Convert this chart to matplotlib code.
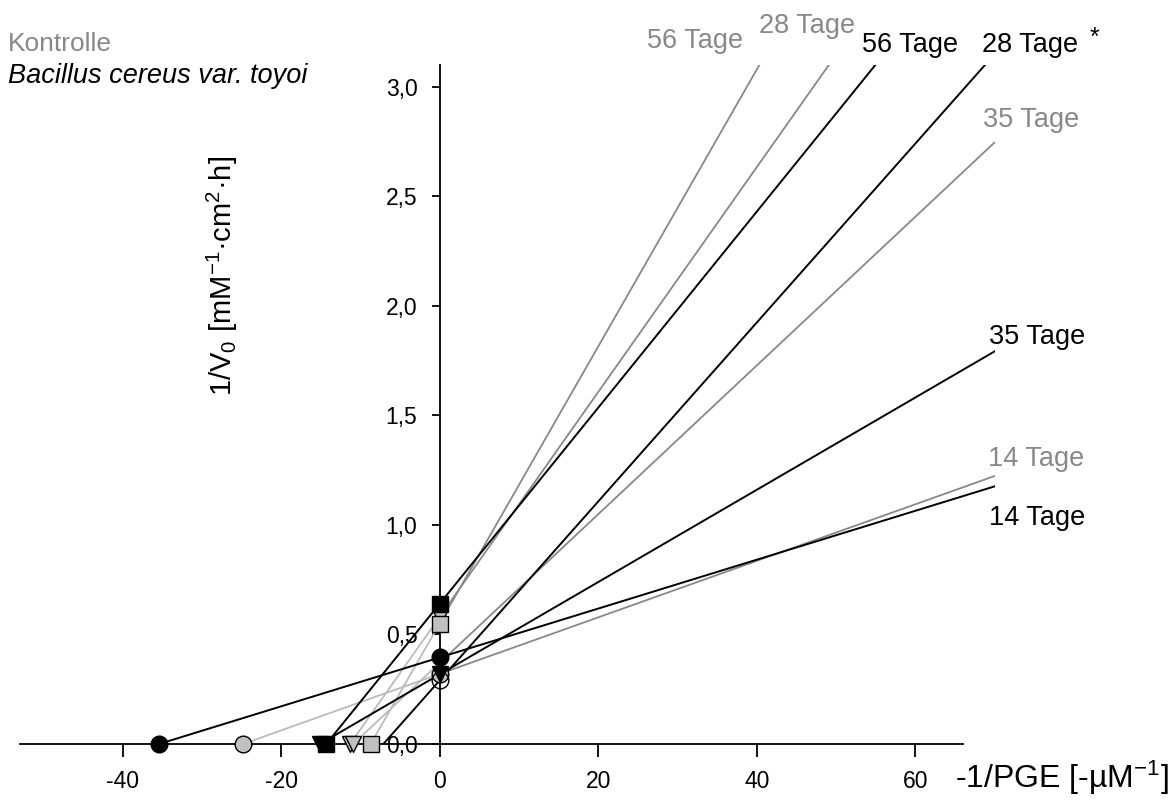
import matplotlib
matplotlib.use('Agg')
import matplotlib.pyplot as plt
from matplotlib.ticker import FuncFormatter


plt.rcParams['font.family'] = ['Liberation Sans', 'DejaVu Sans']
plt.rcParams['mathtext.fontset'] = 'custom'
plt.rcParams['mathtext.rm'] = 'Liberation Sans'
plt.rcParams['mathtext.it'] = 'Liberation Sans:italic'
plt.rcParams['axes.unicode_minus'] = False


days = ['14 Tage', '28 Tage', '35 Tage', '56 Tage']
ctrl_xint = [-24.8, -11.3, -10.9, -8.7]
ctrl_yint = [0.32, 0.58, 0.37, 0.55]
bac_xint = [-35.4, -7.1, -15.1, -14.3]
bac_yint = [0.395, 0.29, 0.318, 0.64]

ctrl_markers = ['o', 'v', 'v', 's']
bac_markers = ['o', 'o', 'v', 's']
bac_fill = ['black', 'none', 'black', 'black']
bac_show_xint = [True, False, True, True]

# label anchors (data coords) for the line names
ctrl_label_x = [75.2, 46.3, 74.6, 32.2]
ctrl_label_y = [1.30, 3.28, 2.85, 3.21]
bac_label_x = [75.4, 68.4, 75.4, 59.3]
bac_label_y = [1.03, 3.19, 1.86, 3.19]
bac_label_ha = ['center', 'left', 'center', 'center']

x_end = 70
gray_dark = '#888888'
gray_light = '#bbbbbb'
marker_gray = '#c0c0c0'


# initial the figure
fig = plt.figure(figsize=(11.73, 8.05), dpi=100)
ax = fig.add_axes([19.5 / 1173, 61 / 805, 975 / 1173, 679 / 805])


# plot lines
for xi, yi in zip(ctrl_xint, ctrl_yint):
    slope = yi / -xi
    ax.plot([xi, 0], [0, yi], color=gray_light, lw=1.3, zorder=2)
    ax.plot([0, x_end], [yi, yi + slope * x_end], color=gray_dark, lw=1.3, zorder=2)

for xi, yi in zip(bac_xint, bac_yint):
    slope = yi / -xi
    ax.plot([xi, x_end], [0, yi + slope * x_end], color='black', lw=1.4, zorder=2.1)

# plot markers at the intercepts
for xi, yi, m in zip(ctrl_xint, ctrl_yint, ctrl_markers):
    ax.plot([xi, 0], [0, yi], ls='none', marker=m, ms=12, mfc=marker_gray,
            mec='black', mew=1.0, clip_on=False, zorder=4)

for xi, yi, m, fc, show in zip(bac_xint, bac_yint, bac_markers, bac_fill, bac_show_xint):
    xs, ys = ([xi, 0], [0, yi]) if show else ([0], [yi])
    ax.plot(xs, ys, ls='none', marker=m, ms=12, mfc=fc,
            mec='black', mew=1.0, clip_on=False, zorder=5)

# names of the lines
for name, x, y in zip(days, ctrl_label_x, ctrl_label_y):
    ax.text(x, y, name, color=gray_dark, fontsize=19.5, ha='center', va='center',
            clip_on=False)
for name, x, y, ha in zip(days, bac_label_x, bac_label_y, bac_label_ha):
    ax.text(x, y, name, color='black', fontsize=19.5, ha=ha, va='center',
            clip_on=False)
ax.text(82.6, 3.225, '*', color='black', fontsize=18, ha='center', va='center',
        clip_on=False)

fig.text(8 / 1173, 1 - 44 / 805, 'Kontrolle', color=gray_dark, fontsize=19,
         ha='left', va='center')
fig.text(8 / 1173, 1 - 76 / 805, 'Bacillus cereus var. toyoi', color='black',
         fontsize=19.5, style='italic', ha='left', va='center')


# axis settings
ax.set_xlim(-53, x_end)
ax.set_ylim(0, 3.1)
ax.spines['top'].set_visible(False)
ax.spines['right'].set_visible(False)
ax.spines['left'].set_position(('data', 0))
ax.spines['left'].set_bounds(0, 3.1)
ax.spines['bottom'].set_bounds(-53, 66)
for sp in ['left', 'bottom']:
    ax.spines[sp].set_linewidth(1.3)

ax.set_xticks([-40, -20, 0, 20, 40, 60])
ax.set_yticks([0, 0.5, 1.0, 1.5, 2.0, 2.5, 3.0])
ax.yaxis.set_major_formatter(FuncFormatter(lambda v, p: f'{v:.1f}'.replace('.', ',')))
ax.tick_params(axis='x', direction='out', length=9, width=1.3, pad=10, labelsize=16.5)
ax.tick_params(axis='y', direction='out', length=6, width=1.3, pad=10, labelsize=16.5)

ax.set_ylabel('1/V$_0$ [mM$^{-1}$·cm$^2$·h]', fontsize=21, va='center', ha='center')
ax.yaxis.set_label_coords((222 - 19.5) / 975, (744 - 276) / 679)
ax.set_xlabel('-1/PGE [-µM$^{-1}$]', fontsize=23, ha='left', va='center')
ax.xaxis.set_label_coords((955 - 19.5) / 975, (744 - 778) / 679)

fig.savefig('out.png', dpi=100)
